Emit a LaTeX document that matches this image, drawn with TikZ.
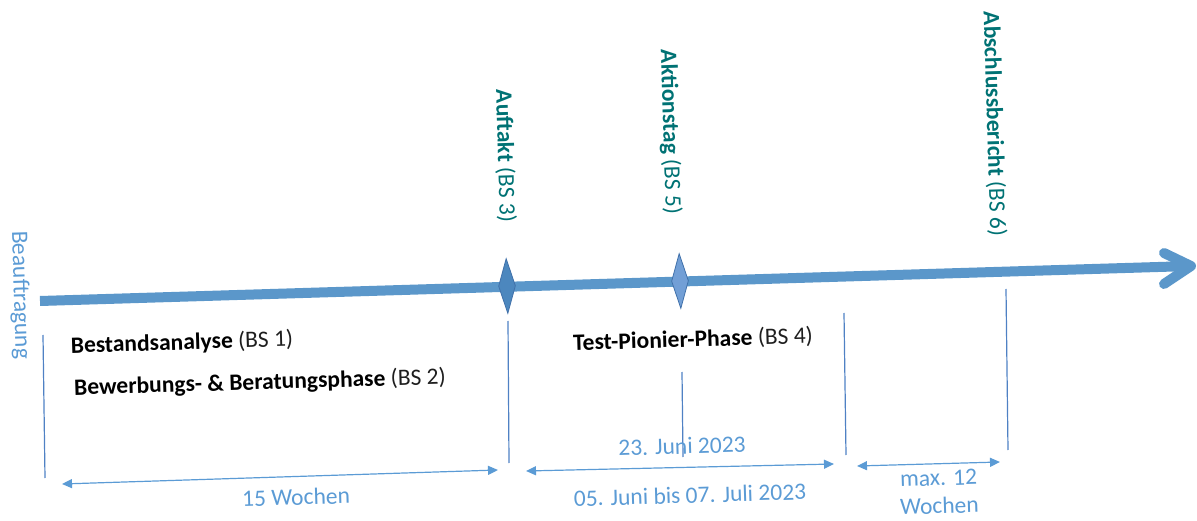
\documentclass[tikz,border=0pt]{standalone}
\usepackage{fontspec}
\setmainfont{Carlito}
\usetikzlibrary{arrows.meta,shapes.geometric}
\definecolor{axisblue}{RGB}{91,151,202}
\definecolor{lblue}{RGB}{91,155,213}
\definecolor{tickblue}{RGB}{79,129,196}
\definecolor{tealtxt}{RGB}{0,114,116}
\definecolor{msone}{RGB}{76,135,190}
\definecolor{mstwo}{RGB}{114,159,214}
\definecolor{msedge}{RGB}{65,113,170}
\definecolor{txtgray}{RGB}{30,30,30}
\begin{document}
\begin{tikzpicture}[x=1pt,y=-1pt,
  txt/.style={inner sep=0pt, font=\fontsize{23.5}{28}\selectfont, rotate=1.75, text=txtgray},
  lbl/.style={txt, text=lblue, align=center},
  vtxt/.style={inner sep=0pt, font=\fontsize{23.5}{28}\selectfont, rotate=-88.25, text=tealtxt},
  vlbl/.style={vtxt, text=lblue},
  tick/.style={draw=tickblue, line width=1.2pt},
  dim/.style={draw=lblue, line width=1.2pt, {Triangle[length=10pt,width=9pt]}-{Triangle[length=10pt,width=9pt]}},
  axisline/.style={draw=axisblue, line width=10pt},
  ms/.style={diamond, draw=msedge, line width=0.8pt, minimum width=17pt, minimum height=55pt, inner sep=0pt, rotate=1.75}
]
\useasboundingbox (0,0) rectangle (1197,521);

% main axis
\coordinate (a0) at (40,301);
\coordinate (tip) at (1191,266);
\coordinate (bu) at (1164,253);
\coordinate (bl) at (1164,284);
\draw[axisline] (a0) -- (tip);
\draw[axisline, line cap=round, line join=round] (bu) -- (tip) -- (bl);

% milestones
\node[ms, fill=msone] (d1) at (507,286) {};
\node[ms, fill=mstwo] (d2) at (680,281) {};

% ticks
\coordinate (t1a) at (43,335);  \coordinate (t1b) at (45,478);
\coordinate (t2a) at (508,321); \coordinate (t2b) at (509,463);
\coordinate (t3a) at (682,372); \coordinate (t3b) at (683,457);
\coordinate (t4a) at (844,313); \coordinate (t4b) at (846,455);
\coordinate (t5a) at (1006,289);\coordinate (t5b) at (1008,450);
\draw[tick] (t1a) -- (t1b);
\draw[tick] (t2a) -- (t2b);
\draw[tick] (t3a) -- (t3b);
\draw[tick] (t4a) -- (t4b);
\draw[tick] (t5a) -- (t5b);

% dimension arrows
\coordinate (r1a) at (62,484);  \coordinate (r1b) at (498,470);
\coordinate (r2a) at (526,471); \coordinate (r2b) at (834,464);
\coordinate (r3a) at (857,466); \coordinate (r3b) at (1000,462);
\draw[dim] (r1a) -- (r1b);
\draw[dim] (r2a) -- (r2b);
\draw[dim] (r3a) -- (r3b);

% texts
\node[vlbl] (beauf) at (20,295) {Beauftragung};
\node[txt] (bs1) at (182,343) {\textbf{\color{black}Bestandsanalyse} (BS 1)};
\node[txt] (bs2) at (260,383) {\textbf{\color{black}Bewerbungs- \& Beratungsphase} (BS 2)};
\node[txt] (bs4) at (693,340) {\textbf{\color{black}Test-Pionier-Phase} (BS 4)};
\node[vtxt] (bs3) at (505,156) {\textbf{Auftakt} (BS 3)};
\node[vtxt] (bs5) at (670,132) {\textbf{Aktionstag} (BS 5)};
\node[vtxt] (bs6) at (994,124) {\textbf{Abschlussbericht} (BS 6)};
\node[lbl] (w15) at (296,497) {15 Wochen};
\node[lbl] (juni) at (682,446) {23. Juni 2023};
\node[lbl] (zeit) at (690,495) {05. Juni bis 07. Juli 2023};
\node[lbl] (max) at (939,492) {max. 12\\Wochen};
\end{tikzpicture}
\end{document}
